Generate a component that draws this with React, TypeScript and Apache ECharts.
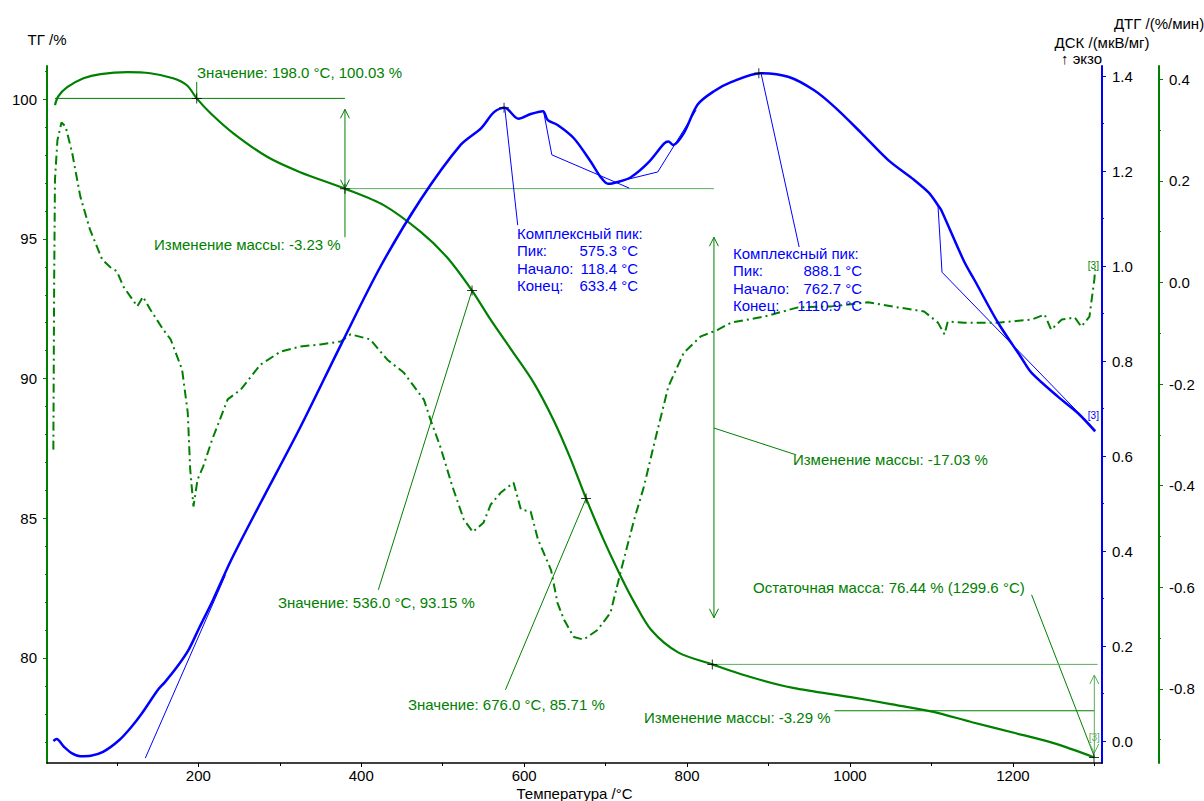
import React, { useEffect, useRef } from "react";
import * as echarts from "echarts";

const GREEN = "#008000";
const LIGHT_GREEN = "#5cae5c";
const BLUE = "#0000ff";
const FONT = '"Liberation Sans", Arial, sans-serif';
const FS = 15;

// Axis ranges
const T_RANGE = [14.2, 1309.4];
const TG_RANGE = [76.24, 101.19];
const DSC_RANGE = [-0.0463, 1.4211];
const DTG_RANGE = [-0.9459, 0.4262];

// Tick values
const xLabelValues = [200, 400, 600, 800, 1000, 1200];
const xMinorValues = [100, 300, 500, 700, 900, 1100, 1300];
const tgLabelValues = [80, 85, 90, 95, 100];
const tgMinorValues = [77, 78, 79, 81, 82, 83, 84, 86, 87, 88, 89, 91, 92, 93, 94, 96, 97, 98, 99, 101];
const dscLabelValues = [0, 0.2, 0.4, 0.6, 0.8, 1.0, 1.2, 1.4];
const dscMinorValues = [0.1, 0.3, 0.5, 0.7, 0.9, 1.1, 1.3];
const dtgLabelValues = [-0.8, -0.6, -0.4, -0.2, 0, 0.2, 0.4];
const dtgMinorValues = [-0.9, -0.7, -0.5, -0.3, -0.1, 0.1, 0.3];

// ТГ, %
const tgData = [
  [24, 99.79], [28, 100.1], [39, 100.43], [59, 100.75], [80, 100.9], [113, 100.97], [141, 100.93],
  [169, 100.75], [186, 100.5], [198, 100.03], [215, 99.5], [243, 98.78], [285, 97.93], [325, 97.39],
  [380, 96.8], [428, 96.2], [473, 95.25], [505, 94.35], [536, 93.15], [559, 92.1], [585, 91.0],
  [612, 89.84], [636, 88.52], [656, 87.2], [676, 85.71], [698, 84.2], [719, 82.9], [735, 82.0],
  [756, 81.0], [789, 80.2], [831, 79.77], [880, 79.3], [930, 78.93], [1001, 78.6], [1050, 78.35],
  [1101, 78.08], [1150, 77.7], [1200, 77.33], [1250, 76.95], [1300, 76.44],
];

// ДСК, мкВ/мг
const dscData = [
  [22, 0.0], [26, 0.004], [35, -0.012], [45, -0.026], [55, -0.032], [68, -0.031], [83, -0.023],
  [103, 0.002], [118, 0.03], [131, 0.059], [150, 0.107], [159, 0.124], [173, 0.154], [188, 0.192],
  [201, 0.238], [218, 0.297], [240, 0.38], [276, 0.5], [325, 0.66], [375, 0.834], [424, 1.0],
  [473, 1.14], [522, 1.255], [547, 1.29], [563, 1.324], [576, 1.333], [593, 1.31], [608, 1.32],
  [623, 1.326], [629, 1.307], [641, 1.297], [661, 1.269], [682, 1.219], [694, 1.187], [703, 1.173],
  [715, 1.177], [731, 1.187], [752, 1.217], [772, 1.258], [777, 1.262], [783, 1.255], [796, 1.28],
  [813, 1.34], [833, 1.368], [854, 1.387], [890, 1.406], [925, 1.398], [956, 1.37], [981, 1.335],
  [1014, 1.28], [1047, 1.223], [1079, 1.181], [1097, 1.154], [1108, 1.128], [1112, 1.118],
  [1140, 1.01], [1153, 0.97], [1182, 0.88], [1210, 0.808], [1223, 0.775], [1256, 0.724],
  [1280, 0.69], [1301, 0.652],
];

// ДТГ, %/мин
const dtgData = [
  [22, -0.329], [23, 0.006], [24, 0.203], [27, 0.28], [32, 0.315], [37, 0.307], [45, 0.256],
  [55, 0.17], [67, 0.104], [82, 0.045], [92, 0.03], [100, 0.022], [108, -0.008], [125, -0.047],
  [132, -0.028], [141, -0.053], [157, -0.093], [166, -0.112], [180, -0.171], [187, -0.256],
  [190, -0.368], [194, -0.441], [199, -0.388], [206, -0.362], [217, -0.309], [236, -0.23],
  [252, -0.211], [276, -0.162], [301, -0.136], [325, -0.126], [350, -0.122], [375, -0.116],
  [387, -0.102], [411, -0.112], [432, -0.152], [452, -0.177], [477, -0.231], [485, -0.27],
  [497, -0.323], [512, -0.402], [526, -0.467], [537, -0.491], [550, -0.473], [559, -0.437],
  [571, -0.414], [587, -0.394], [596, -0.447], [608, -0.451], [617, -0.506], [633, -0.566],
  [641, -0.631], [649, -0.664], [661, -0.698], [673, -0.703], [690, -0.684], [706, -0.65],
  [719, -0.566], [735, -0.467], [747, -0.402], [760, -0.315], [777, -0.205], [796, -0.138],
  [817, -0.106], [838, -0.093], [854, -0.079], [895, -0.067], [936, -0.049], [977, -0.047],
  [1022, -0.039], [1059, -0.049], [1091, -0.057], [1108, -0.079], [1116, -0.102], [1120, -0.077],
  [1140, -0.079], [1182, -0.079], [1223, -0.073], [1239, -0.063], [1247, -0.093], [1260, -0.073],
  [1276, -0.069], [1284, -0.087], [1294, -0.067], [1300, 0.006], [1301, 0.026],
];

// Markers
const tgCrosses = [[198, 100.03], [380, 96.8], [536, 93.15], [676, 85.71], [831, 79.77], [1299.6, 76.44]];
const dscCrosses = [[575.3, 1.333], [888.1, 1.406]];

// Annotation segments (data coordinates)
const tgDarkSegments = [
  [[24, 100.03], [380, 100.03]],
  [[198, 100.03], [198, 100.62]],
  [[380, 99.64], [380, 95.06]],
  [[536, 93.15], [421, 82.44]],
  [[676, 85.71], [577, 78.86]],
  [[833, 95.06], [833, 81.44]],
  [[833, 88.23], [934, 87.27]],
  [[981, 78.11], [1300, 78.11]],
  [[1223, 82.26], [1300, 76.47]],
];
const tgLightSegments = [
  [[380, 96.8], [833, 96.8]],
  [[831, 79.77], [1304, 79.77]],
  [[1300, 79.39], [1300, 76.6]],
];
const dscSegments = [
  [[576.2, 1.333], [592.1, 1.086]],
  [[624, 1.324], [634, 1.234], [729, 1.164]],
  [[709, 1.175], [764, 1.198], [811, 1.328]],
  [[890.8, 1.406], [937.6, 1.04]],
  [[1108, 1.128], [1113, 0.987], [1301, 0.655]],
  [[134.9, -0.036], [233.2, 0.349]],
];
const darkArrows = [[380, 99.64, 1], [380, 96.8, -1], [833, 95.06, 1], [833, 81.44, -1]];
const lightArrows = [[1300, 79.39, 1], [1300, 76.6, -1]];

// Texts
const tgTexts = [
  [198.4, 100.94, "Значение: 198.0 °C, 100.03 %"],
  [145.6, 94.79, "Изменение массы: -3.23 %"],
  [297.8, 81.97, "Значение: 536.0 °C, 93.15 %"],
  [457.4, 78.32, "Значение: 676.0 °C, 85.71 %"],
  [930, 87.09, "Изменение массы: -17.03 %"],
  [880.9, 82.54, "Остаточная масса: 76.44 % (1299.6 °C)"],
  [747, 77.86, "Изменение массы: -3.29 %"],
];
const peak1Lines = [["Комплексный пик:", ""], ["Пик:", "575.3 °C"], ["Начало:", "118.4 °C"], ["Конец:", "633.4 °C"]];
const peak2Lines = [["Комплексный пик:", ""], ["Пик:", "888.1 °C"], ["Начало:", "762.7 °C"], ["Конец:", "1110.9 °C"]];
const peakBlocks = [
  { t: 591.2, v: 1.069, width: 121, lines: peak1Lines },
  { t: 856.4, v: 1.027, width: 129, lines: peak2Lines },
];

function makeYAxis(o: any) {
  return {
    type: "value",
    min: o.range[0],
    max: o.range[1],
    position: o.position,
    offset: o.offset || 0,
    scale: true,
    splitLine: { show: false },
    axisLine: { show: o.line, lineStyle: { color: o.color, width: 2 } },
    axisTick: { show: true, customValues: o.ticks, length: o.tickLen, lineStyle: { color: o.color, width: 1 } },
    axisLabel: o.labels
      ? { show: true, customValues: o.labels, color: "#000", fontSize: FS, fontFamily: FONT, margin: 10, formatter: o.fmt }
      : { show: false },
    name: o.name || "",
    nameLocation: "end",
    nameGap: o.nameGap || 0,
    nameTextStyle: { color: "#000", fontSize: FS, fontFamily: FONT, align: "center" },
  };
}

export default function App() {
  const ref = useRef<HTMLDivElement>(null);
  useEffect(() => {
    if (!ref.current) return;
    const chart = echarts.init(ref.current, null, { renderer: "svg" });

    const segSeries = (segs: any[], yIdx: number, color: string) =>
      segs.map((seg) => ({
        type: "line", xAxisIndex: 0, yAxisIndex: yIdx, data: seg, symbol: "none", silent: true,
        lineStyle: { color, width: 1 }, z: 1,
      }));
    const dT = 4.5 / 0.8146;
    const dV = 9 / 27.94;
    const arrowSegs = (arr: any[]) =>
      arr.map(([t, v, dir]) => [[t - dT, v - dir * dV], [t, v], [t + dT, v - dir * dV]]);

    const crossPath = "path://M4.5,0H5.5V4.5H10V5.5H5.5V10H4.5V5.5H0V4.5H4.5Z";

    const fmt1 = (v: number) => v.toFixed(1);
    const fmt0 = (v: number) => String(Math.round(v));

    const option: any = {
      animation: false,
      grid: { left: 47, right: 102, top: 66, bottom: 38, containLabel: false, outerBoundsMode: "none" },
      xAxis: [
        {
          type: "value", min: T_RANGE[0], max: T_RANGE[1], position: "bottom", scale: true,
          splitLine: { show: false },
          axisLine: { show: true, onZero: false, lineStyle: { color: "#000", width: 1.5 } },
          axisTick: { show: true, customValues: xLabelValues, length: 4, lineStyle: { color: "#000" } },
          axisLabel: { customValues: xLabelValues, color: "#000", fontSize: FS, fontFamily: FONT, margin: 5, formatter: fmt0 },
          name: "Температура /°C", nameLocation: "middle", nameGap: 23, nameMoveOverlap: false,
          nameTextStyle: { color: "#000", fontSize: FS, fontFamily: FONT },
        },
        {
          type: "value", min: T_RANGE[0], max: T_RANGE[1], position: "bottom", scale: true,
          splitLine: { show: false },
          axisLine: { show: false, onZero: false },
          axisTick: { show: true, customValues: xMinorValues, length: 3, lineStyle: { color: "#000" } },
          axisLabel: { show: false },
        },
      ],
      yAxis: [
        makeYAxis({ range: TG_RANGE, position: "left", line: true, color: GREEN, ticks: tgLabelValues, tickLen: 4, labels: tgLabelValues, fmt: fmt0, name: "ТГ /%", nameGap: 19 }),
        makeYAxis({ range: DSC_RANGE, position: "right", line: true, color: BLUE, ticks: dscLabelValues, tickLen: 4, labels: dscLabelValues, fmt: fmt1, name: "ДСК /(мкВ/мг)", nameGap: 16 }),
        makeYAxis({ range: DTG_RANGE, position: "right", offset: 57, line: true, color: GREEN, ticks: dtgLabelValues, tickLen: 4, labels: dtgLabelValues, fmt: fmt1, name: "ДТГ /(%/мин)", nameGap: 35 }),
        makeYAxis({ range: TG_RANGE, position: "left", line: false, color: GREEN, ticks: tgMinorValues, tickLen: 2 }),
        makeYAxis({ range: DSC_RANGE, position: "right", line: false, color: BLUE, ticks: dscMinorValues, tickLen: 2 }),
        makeYAxis({ range: DTG_RANGE, position: "right", offset: 57, line: false, color: GREEN, ticks: dtgMinorValues, tickLen: 2 }),
      ],
      series: [
        ...segSeries(tgDarkSegments, 0, GREEN),
        ...segSeries(arrowSegs(darkArrows), 0, GREEN),
        ...segSeries(tgLightSegments, 0, LIGHT_GREEN),
        ...segSeries(arrowSegs(lightArrows), 0, LIGHT_GREEN),
        ...segSeries(dscSegments, 1, BLUE),
        {
          type: "line", name: "ДТГ", xAxisIndex: 0, yAxisIndex: 2, data: dtgData, symbol: "none",
          lineStyle: { color: GREEN, width: 2, type: [9, 4, 2, 4] }, z: 2,
        },
        {
          type: "line", name: "ТГ", xAxisIndex: 0, yAxisIndex: 0, data: tgData, symbol: "none", smooth: 0.3,
          lineStyle: { color: GREEN, width: 2.2 }, z: 3,
        },
        {
          type: "line", name: "ДСК", xAxisIndex: 0, yAxisIndex: 1, data: dscData, symbol: "none", smooth: 0.3,
          lineStyle: { color: BLUE, width: 2.5 }, z: 3,
        },
        {
          type: "scatter", xAxisIndex: 0, yAxisIndex: 0, data: tgCrosses, symbol: crossPath, symbolSize: 10,
          itemStyle: { color: "#000" }, z: 5, silent: true,
        },
        {
          type: "scatter", xAxisIndex: 0, yAxisIndex: 1, data: dscCrosses, symbol: crossPath, symbolSize: 10,
          itemStyle: { color: "#000" }, z: 5, silent: true,
        },
      ],
    };
    chart.setOption(option);

    const px = (yIdx: number, t: number, v: number) =>
      chart.convertToPixel({ xAxisIndex: 0, yAxisIndex: yIdx } as any, [t, v]) as number[];

    const graphics: any[] = [];
    const txt = (x: number, y: number, text: string, fill: string, align = "left", size = FS) => ({
      type: "text", x, y, z: 10, silent: true,
      style: { text, fill, fontSize: size, fontFamily: FONT, align, verticalAlign: "middle", textAlign: align, textVerticalAlign: "middle" },
    });
    tgTexts.forEach(([t, v, s]: any) => {
      const [x, y] = px(0, t, v);
      graphics.push(txt(x, y, s, GREEN));
    });
    peakBlocks.forEach((b) => {
      const [x, y] = px(1, b.t, b.v);
      b.lines.forEach(([a, val], i) => {
        const yy = y + i * 17.5;
        graphics.push(txt(x, yy, a, BLUE));
        if (val) graphics.push(txt(x + b.width, yy, val, BLUE, "right"));
      });
    });
    {
      const [x, y] = px(1, 1292, 0.686);
      graphics.push(txt(x, y, "[3]", BLUE, "left", 10));
    }
    {
      const [x, y] = px(2, 1292, 0.0344);
      graphics.push(txt(x, y, "[3]", GREEN, "left", 10));
    }
    {
      const [x, y] = px(0, 1293, 77.14);
      graphics.push(txt(x, y, "[3]", LIGHT_GREEN, "left", 10));
    }
    graphics.push(txt(1061, 58, "↑ экзо", "#000", "left", FS));
    chart.setOption({ graphic: graphics });

    return () => chart.dispose();
  }, []);

  return (
    <div
      ref={ref}
      style={{ position: "fixed", left: 0, top: 0, width: 1204, height: 801, background: "#fff" }}
    />
  );
}
